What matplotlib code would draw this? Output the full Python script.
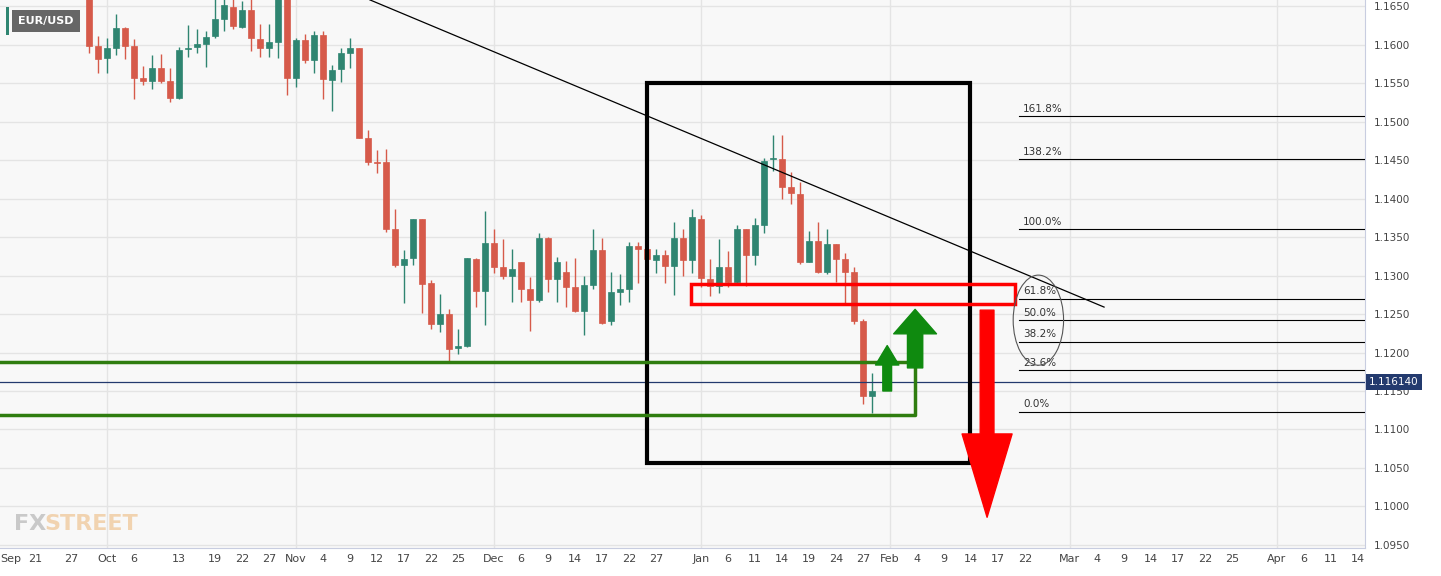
import numpy as np
import pandas as pd
import matplotlib.pyplot as plt
from matplotlib.patches import Rectangle, Ellipse

# EUR/USD daily candles, first candle = 2021-09-29 (trading-day index 6)
first_idx = 6
opens = [1.1671, 1.1598, 1.1583, 1.1596, 1.1621, 1.1598, 1.1557, 1.1552, 1.1569, 1.1552,
         1.1530, 1.1594, 1.1597, 1.1601, 1.1611, 1.1633, 1.1649, 1.1623, 1.1645, 1.1607,
         1.1596, 1.1603, 1.1671, 1.1556, 1.1606, 1.1580, 1.1612, 1.1554, 1.1568, 1.1589,
         1.1596, 1.1479, 1.1447, 1.1447, 1.1360, 1.1314, 1.1323, 1.1373, 1.1290, 1.1237,
         1.1250, 1.1206, 1.1208, 1.1322, 1.1280, 1.1342, 1.1311, 1.1299, 1.1317, 1.1283,
         1.1268, 1.1349, 1.1295, 1.1305, 1.1285, 1.1254, 1.1288, 1.1333, 1.1241, 1.1279,
         1.1282, 1.1338, 1.1334, 1.1320, 1.1327, 1.1312, 1.1349, 1.1320, 1.1373, 1.1296,
         1.1286, 1.1311, 1.1291, 1.1361, 1.1327, 1.1365, 1.1451, 1.1451, 1.1415, 1.1406,
         1.1318, 1.1345, 1.1304, 1.1341, 1.1321, 1.1305, 1.1241, 1.1143]
highs = [1.1684, 1.1611, 1.1608, 1.1640, 1.1623, 1.1607, 1.1572, 1.1586, 1.1588, 1.1570,
         1.1597, 1.1625, 1.1620, 1.1617, 1.1662, 1.1660, 1.1662, 1.1656, 1.1662, 1.1627,
         1.1627, 1.1684, 1.1680, 1.1609, 1.1614, 1.1617, 1.1617, 1.1573, 1.1595, 1.1609,
         1.1596, 1.1489, 1.1463, 1.1464, 1.1386, 1.1333, 1.1374, 1.1374, 1.1294, 1.1276,
         1.1256, 1.1230, 1.1323, 1.1323, 1.1384, 1.1360, 1.1348, 1.1334, 1.1318, 1.1298,
         1.1355, 1.1350, 1.1324, 1.1319, 1.1323, 1.1299, 1.1360, 1.1349, 1.1304, 1.1302,
         1.1343, 1.1343, 1.1335, 1.1335, 1.1333, 1.1369, 1.1360, 1.1387, 1.1379, 1.1322,
         1.1347, 1.1332, 1.1365, 1.1361, 1.1375, 1.1453, 1.1482, 1.1483, 1.1434, 1.1422,
         1.1358, 1.1369, 1.1360, 1.1341, 1.1329, 1.1311, 1.1244, 1.1174]
lows = [1.1589, 1.1563, 1.1563, 1.1586, 1.1581, 1.1529, 1.1548, 1.1542, 1.1550, 1.1525,
        1.1529, 1.1584, 1.1589, 1.1571, 1.1609, 1.1618, 1.1620, 1.1621, 1.1591, 1.1584,
        1.1584, 1.1582, 1.1535, 1.1545, 1.1576, 1.1563, 1.1529, 1.1514, 1.1551, 1.1570,
        1.1479, 1.1443, 1.1433, 1.1356, 1.1311, 1.1264, 1.1314, 1.1251, 1.1231, 1.1226,
        1.1187, 1.1198, 1.1207, 1.1259, 1.1236, 1.1303, 1.1295, 1.1266, 1.1266, 1.1228,
        1.1265, 1.1278, 1.1265, 1.1259, 1.1253, 1.1223, 1.1282, 1.1237, 1.1236, 1.1262,
        1.1265, 1.1290, 1.1320, 1.1303, 1.1290, 1.1275, 1.1299, 1.1303, 1.1285, 1.1273,
        1.1277, 1.1285, 1.1290, 1.1286, 1.1313, 1.1355, 1.1436, 1.1399, 1.1393, 1.1315,
        1.1317, 1.1303, 1.1302, 1.1291, 1.1264, 1.1237, 1.1133, 1.1121]
closes = [1.1598, 1.1581, 1.1596, 1.1621, 1.1598, 1.1557, 1.1552, 1.1569, 1.1552, 1.1531,
          1.1593, 1.1596, 1.1601, 1.1610, 1.1633, 1.1651, 1.1624, 1.1645, 1.1608, 1.1596,
          1.1603, 1.1671, 1.1556, 1.1606, 1.1580, 1.1612, 1.1555, 1.1567, 1.1589, 1.1595,
          1.1479, 1.1447, 1.1446, 1.1360, 1.1313, 1.1322, 1.1373, 1.1289, 1.1237, 1.1250,
          1.1205, 1.1208, 1.1323, 1.1280, 1.1342, 1.1311, 1.1299, 1.1309, 1.1283, 1.1268,
          1.1349, 1.1295, 1.1317, 1.1285, 1.1254, 1.1288, 1.1333, 1.1238, 1.1278, 1.1282,
          1.1338, 1.1335, 1.1321, 1.1327, 1.1312, 1.1349, 1.1320, 1.1376, 1.1297, 1.1286,
          1.1311, 1.1291, 1.1361, 1.1327, 1.1365, 1.1449, 1.1452, 1.1415, 1.1407, 1.1318,
          1.1345, 1.1304, 1.1341, 1.1321, 1.1305, 1.1241, 1.1143, 1.1150]
last_price = 1.116140

fib_labels = ['161.8%', '138.2%', '100.0%', '61.8%', '50.0%', '38.2%', '23.6%', '0.0%']
fib_levels = [1.1507, 1.1451, 1.1360, 1.1270, 1.1242, 1.1214, 1.1177, 1.1123]

tick_dates = ['2021-09-21', '2021-09-27', '2021-10-01', '2021-10-06', '2021-10-13', '2021-10-19',
              '2021-10-22', '2021-10-27', '2021-11-01', '2021-11-04', '2021-11-09', '2021-11-12',
              '2021-11-17', '2021-11-22', '2021-11-25', '2021-12-01', '2021-12-06', '2021-12-09',
              '2021-12-14', '2021-12-17', '2021-12-22', '2021-12-27', '2022-01-03', '2022-01-06',
              '2022-01-11', '2022-01-14', '2022-01-19', '2022-01-24', '2022-01-27', '2022-02-01',
              '2022-02-04', '2022-02-09', '2022-02-14', '2022-02-17', '2022-02-22', '2022-03-01',
              '2022-03-04', '2022-03-09', '2022-03-14', '2022-03-17', '2022-03-22', '2022-03-25',
              '2022-04-01', '2022-04-06', '2022-04-11', '2022-04-14']

GREEN = '#2f8571'
RED = '#d65a4a'
LINE_GREEN = '#2f7d0f'

days = pd.bdate_range('2021-09-21', '2022-05-31')
day_idx = {d: i for i, d in enumerate(days)}

fig = plt.figure(figsize=(14.41, 5.76), dpi=100)
fig.patch.set_facecolor('white')
ax = fig.add_axes([0, 28 / 576, 1365 / 1441, 548 / 576])
ax.set_facecolor('#f8f8f8')
ax.set_xlim(-3.9, 147.8)
ax.set_ylim(1.09461, 1.16578)

# grid
for lvl in np.arange(1.095, 1.1651, 0.005):
    ax.axhline(lvl, color='#e4e4e4', lw=1, zorder=0)
for d in tick_dates:
    t = pd.Timestamp(d)
    if t.day == 1 or d == '2022-01-03':
        ax.axvline(day_idx[t], color='#e4e4e4', lw=1, zorder=0)

# candles
for k, (o, h, l, c) in enumerate(zip(opens, highs, lows, closes)):
    x = first_idx + k
    col = GREEN if c >= o else RED
    ax.vlines(x, l, h, color=col, lw=1, zorder=2)
    ax.add_patch(Rectangle((x - 0.33, min(o, c)), 0.66, max(abs(c - o), 0.00008),
                           facecolor=col, edgecolor=col, lw=0.5, zorder=3))

# trend line
ax.plot([37.2, 118.8], [1.1658, 1.1259], color='black', lw=0.9, zorder=4)

# boxes
ax.add_patch(Rectangle((68, 1.1057), 35.9, 0.0493, fill=False, edgecolor='black', lw=3, zorder=5))
ax.add_patch(Rectangle((72.9, 1.1263), 36, 0.0026, fill=False, edgecolor='#ff0000', lw=2.5, zorder=5))
ax.plot([-4, 97.8, 97.8, -4], [1.1188, 1.1188, 1.1119, 1.1119], color=LINE_GREEN, lw=2.5, zorder=5)

# last price line
ax.axhline(last_price, color='#233a6e', lw=0.9, zorder=4)

# fibonacci levels
for lab, lvl in zip(fib_labels, fib_levels):
    ax.plot([109.4, 147.8], [lvl, lvl], color='black', lw=0.8, zorder=4)
    ax.text(109.8, lvl + 0.0003, lab, fontsize=7.5, color='#333333', va='bottom', zorder=6)
ax.add_patch(Ellipse((111.5, 1.1242), 5.6, 0.0117, fill=False, edgecolor='#555555', lw=0.8, zorder=6))

# arrows
ax.annotate('', xy=(94.7, 1.1209), xytext=(94.7, 1.1150),
            arrowprops=dict(arrowstyle='simple,head_length=1.0,head_width=1.2,tail_width=0.45',
                            color='#0f8a0f', shrinkA=0, shrinkB=0, mutation_scale=14), zorder=7)
ax.annotate('', xy=(97.8, 1.1256), xytext=(97.8, 1.1180),
            arrowprops=dict(arrowstyle='simple,head_length=0.8,head_width=1.4,tail_width=0.5',
                            color='#0f8a0f', shrinkA=0, shrinkB=0, mutation_scale=22), zorder=7)
ax.annotate('', xy=(105.8, 1.0986), xytext=(105.8, 1.1255),
            arrowprops=dict(arrowstyle='simple,head_length=2.0,head_width=1.2,tail_width=0.33',
                            color='#ff0000', shrinkA=0, shrinkB=0, mutation_scale=30), zorder=7)

# x ticks
pos = [day_idx[pd.Timestamp(d)] for d in tick_dates]
labs = []
for d in tick_dates:
    t = pd.Timestamp(d)
    labs.append(t.strftime('%b') if (t.day == 1 or d == '2022-01-03') else str(t.day))
ax.set_xticks(pos)
ax.set_xticklabels(labs, fontsize=8, color='#444444')
ax.tick_params(axis='x', length=0, pad=4)
ax.text(-3.9, -0.0115, 'Sep', transform=ax.get_xaxis_transform(), fontsize=8, color='#444444',
        va='top', ha='left')

# right price axis
ax.yaxis.tick_right()
yt = np.arange(1.095, 1.1651, 0.005)
ax.set_yticks(yt)
ax.set_yticklabels([f'{v:.4f}' for v in yt], fontsize=7.5, color='#444444')
ax.tick_params(axis='y', length=0, pad=6)
for s in ['top', 'left']:
    ax.spines[s].set_visible(False)
ax.spines['right'].set_color('#c8cde0')
ax.spines['bottom'].set_color('#c8cde0')
ax.text(1.003, last_price, f'{last_price:.6f}', transform=ax.get_yaxis_transform(),
        fontsize=7.5, color='white', va='center', ha='left', clip_on=False,
        bbox=dict(boxstyle='square,pad=0.3', facecolor='#233a6e', edgecolor='none'), zorder=10)

# pair label and watermark
fig.text(0.0125, 0.963, 'EUR/USD', fontsize=8, color='white', weight='bold', va='center',
         bbox=dict(boxstyle='square,pad=0.55', facecolor='#666666', edgecolor='none'))
fig.patches.append(Rectangle((0.0045, 0.94), 0.002, 0.047, transform=fig.transFigure,
                             facecolor=GREEN, edgecolor='none', zorder=11))
fig.text(0.010, 0.08, 'FX', fontsize=16, color='#c9c9c9', weight='bold', family='DejaVu Sans')
fig.text(0.031, 0.08, 'STREET', fontsize=16, color='#f1d3b0', weight='bold', family='DejaVu Sans')

fig.savefig('out.png', dpi=100)
